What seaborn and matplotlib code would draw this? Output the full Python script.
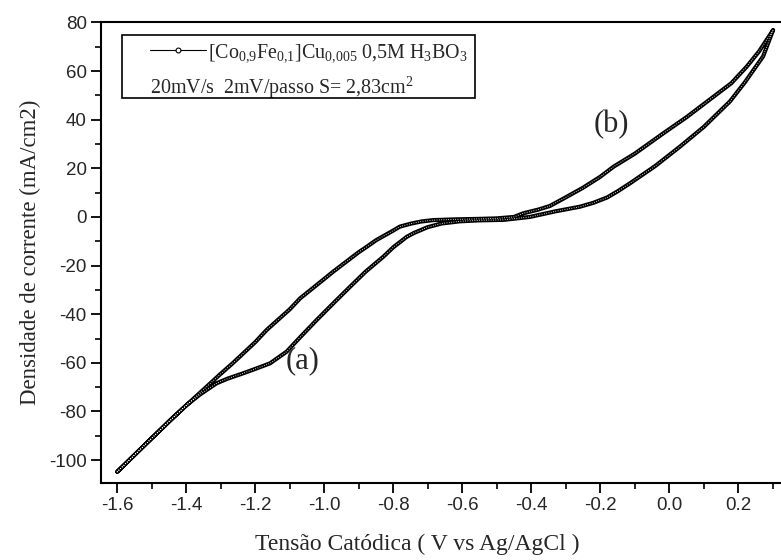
import numpy as np
import pandas as pd
import matplotlib
matplotlib.use("Agg")
import matplotlib.pyplot as plt
import seaborn as sns
from matplotlib.lines import Line2D
from matplotlib.patches import Rectangle

# ---- data ----
upper_v = [0.301, 0.26, 0.224, 0.18, 0.128, 0.05, -0.017, -0.10, -0.162, -0.20, -0.25,
           -0.307, -0.346, -0.38, -0.423, -0.45, -0.50, -0.55, -0.62, -0.684, -0.72,
           -0.75, -0.781, -0.80, -0.85, -0.877, -0.90, -0.974, -1.00, -1.07, -1.10,
           -1.167, -1.20, -1.264, -1.30, -1.35, -1.40, -1.45, -1.50, -1.60]
upper_j = [76.8, 68.0, 61.7, 55.0, 49.4, 41.0, 34.4, 26.0, 20.6, 16.5, 12.0,
           7.5, 4.5, 3.0, 1.5, 0.0, -0.6, -0.8, -1.0, -1.3, -1.9,
           -2.8, -4.0, -5.6, -9.6, -12.3, -14.5, -22.5, -25.5, -33.5, -38.0,
           -46.5, -51.5, -60.0, -64.5, -71.0, -77.5, -84.0, -91.0, -104.8]

lower_v = [-1.60, -1.50, -1.40, -1.36, -1.312, -1.28, -1.235, -1.20, -1.157, -1.109,
           -1.07, -1.022, -0.97, -0.925, -0.88, -0.829, -0.80, -0.761, -0.74, -0.70,
           -0.66, -0.607, -0.55, -0.48, -0.404, -0.33, -0.259, -0.22, -0.18, -0.15,
           -0.114, -0.04, 0.031, 0.10, 0.176, 0.22, 0.272, 0.301]
lower_j = [-104.8, -91.0, -77.5, -73.0, -68.4, -66.5, -64.3, -62.5, -60.2, -55.4,
           -49.5, -42.4, -35.0, -28.7, -22.5, -16.4, -12.5, -8.2, -6.6, -4.2,
           -2.7, -1.8, -1.4, -1.2, 0.0, 2.3, 4.2, 5.8, 8.0, 10.5,
           13.8, 21.0, 28.9, 37.0, 47.5, 55.5, 66.0, 76.8]

x_ticks = [-1.6, -1.4, -1.2, -1.0, -0.8, -0.6, -0.4, -0.2, 0.0, 0.2]
x_ticklabels = ["-1.6", "-1.4", "-1.2", "-1.0", "-0.8", "-0.6", "-0.4", "-0.2", "0.0", "0.2"]
x_minor = [-1.5, -1.3, -1.1, -0.9, -0.7, -0.5, -0.3, -0.1, 0.1, 0.3]
y_ticks = [-100, -80, -60, -40, -20, 0, 20, 40, 60, 80]
y_ticklabels = ["-100", "-80", "-60", "-40", "-20", "0", "20", "40", "60", "80"]
y_minor = [-90, -70, -50, -30, -10, 10, 30, 50, 70]

legend_line1 = r"[Co$_{0{,}9}$Fe$_{0{,}1}$]Cu$_{0{,}005}$ 0,5M H$_3$BO$_3$"
legend_line2 = r"20mV/s  2mV/passo S= 2,83cm$^2$"
xlabel = "Tensão Catódica ( V vs Ag/AgCl )"
ylabel = "Densidade de corrente (mA/cm2)"
notes = [("(a)", -1.062, -59.1), ("(b)", -0.167, 38.0)]

# ---- build frame ----
df = pd.DataFrame({
    "v": upper_v + lower_v,
    "j": upper_j + lower_j,
})

sns.set_theme(style="white")
plt.rcParams["font.family"] = ["Liberation Serif", "DejaVu Serif"]
plt.rcParams["mathtext.fontset"] = "custom"
plt.rcParams["mathtext.rm"] = "Liberation Serif"
plt.rcParams["mathtext.it"] = "Liberation Serif:italic"

fig = plt.figure(figsize=(7.81, 5.6), dpi=100)
ax = fig.add_axes([0.1289, 0.138, 0.8711, 0.822])

sns.lineplot(data=df, x="v", y="j", sort=False, estimator=None, ax=ax,
             color="black", linewidth=3.0, legend=False)
ax.lines[-1].set_solid_joinstyle("round")
sns.lineplot(data=df, x="v", y="j", sort=False, estimator=None, ax=ax,
             color="white", linewidth=0.7, legend=False)
ax.lines[-1].set_linestyle((0, (0.8, 1.6)))

ax.set_xlim(-1.648, 0.324)
ax.set_ylim(-109.3, 80)

tickfont = ["Liberation Sans Narrow", "Liberation Sans", "DejaVu Sans"]
ax.set_xticks(x_ticks)
ax.set_xticklabels(x_ticklabels, family=tickfont, fontsize=13.5)
ax.set_yticks(y_ticks)
ax.set_yticklabels(y_ticklabels, family=tickfont, fontsize=13.5)
ax.set_xticks(x_minor, minor=True)
ax.set_yticks(y_minor, minor=True)

ax.tick_params(axis="both", which="major", direction="out", length=7, width=1.3,
               color="black", pad=3, bottom=True, left=True, top=False, right=False)
ax.tick_params(axis="both", which="minor", direction="out", length=4, width=1.2,
               color="black", bottom=True, left=True, top=False, right=False)

for side in ["left", "bottom", "top"]:
    ax.spines[side].set_visible(True)
    ax.spines[side].set_color("black")
    ax.spines[side].set_linewidth(1.5)
ax.spines["right"].set_visible(False)

ax.set_xlabel(xlabel, fontsize=17, va="center")
ax.xaxis.set_label_coords(0.465, -0.135)
ax.set_ylabel(ylabel, fontsize=16.5, labelpad=6)

for txt, x, y in notes:
    ax.text(x, y, txt, fontsize=22, ha="center", va="center")

# legend box
ax.add_patch(Rectangle((0.0309, 0.835), 0.5192, 0.1374, transform=ax.transAxes,
                       fill=False, edgecolor="black", linewidth=1.2, zorder=5))
handle = Line2D([], [], color="black", linewidth=0.8, marker="o", markersize=3.5,
                markerfacecolor="white", markeredgecolor="black", markeredgewidth=0.8)
ax.legend([handle], [legend_line1], loc="center left", bbox_to_anchor=(0.0725, 0.933),
          frameon=False, borderaxespad=0, borderpad=0, handlelength=2.8,
          handletextpad=0.1, numpoints=1, fontsize=14.4)
ax.text(0.0725, 0.858, legend_line2, transform=ax.transAxes, fontsize=14.4,
        ha="left", va="center")

fig.savefig("out.png", dpi=100)
